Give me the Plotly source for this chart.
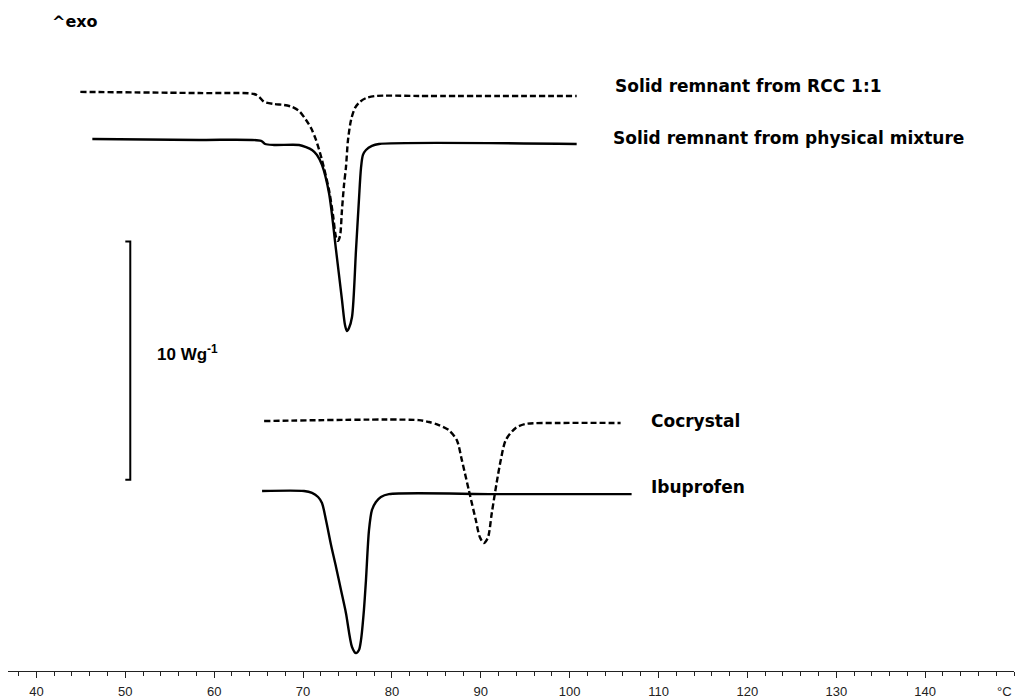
import plotly.graph_objects as go

# ---------------- data (temperature in °C, heat flow in W/g, offset stacked) ----------------
rcc_T = [44.94, 58.31, 64.49, 65.06, 65.62, 66.74, 67.87, 68.76, 69.55, 70.34, 70.90, 71.46,
         72.13, 72.92, 73.37, 73.71, 73.93, 74.16, 74.38, 74.61, 74.83, 75.06, 75.40, 75.85,
         76.40, 77.08, 78.20, 83.03, 100.79]
rcc_W = [24.29, 24.24, 24.20, 24.08, 23.87, 23.78, 23.74, 23.66, 23.49, 23.11, 22.77, 22.27,
         21.43, 20.17, 19.12, 18.19, 18.03, 18.24, 19.33, 20.38, 21.13, 22.27, 23.11, 23.62,
         23.87, 24.03, 24.12, 24.12, 24.12]

pm_T = [46.29, 58.31, 65.28, 65.73, 66.74, 69.55, 70.34, 71.01, 71.57, 72.13, 72.92, 73.71,
        74.38, 74.72, 74.94, 75.17, 75.51, 75.96, 76.29, 76.52, 76.74, 77.08, 77.75, 78.54, 100.79]
pm_W = [22.31, 22.27, 22.23, 22.10, 22.06, 22.06, 21.97, 21.85, 21.64, 21.22, 20.04, 17.65,
        15.55, 14.50, 14.24, 14.37, 14.83, 17.65, 19.75, 21.09, 21.64, 21.85, 22.02, 22.10, 22.10]

cocr_T = [65.62, 83.03, 84.16, 85.28, 86.40, 87.30, 87.87, 88.65, 89.44, 89.89, 90.34, 90.79,
          91.24, 91.80, 92.25, 92.81, 93.93, 95.06, 98.76, 105.73]
cocr_W = [10.46, 10.50, 10.42, 10.29, 10.08, 9.66, 8.82, 7.56, 6.30, 5.59, 5.34, 5.55,
          6.60, 7.90, 8.82, 9.66, 10.17, 10.34, 10.38, 10.38]

ibu_T = [65.39, 70.11, 71.01, 71.69, 72.13, 72.58, 73.15, 73.71, 74.27, 74.83, 75.51, 75.96,
         76.29, 76.52, 76.85, 77.08, 77.42, 77.75, 78.20, 78.76, 79.66, 92.02, 106.97]
ibu_W = [7.52, 7.52, 7.44, 7.27, 7.02, 6.30, 5.25, 4.33, 3.36, 2.39, 0.97, 0.71,
         0.84, 1.26, 2.52, 3.78, 5.88, 6.72, 7.06, 7.27, 7.39, 7.39, 7.39]

# scale bar (10 W/g)
bar_T = [50.0, 50.56, 50.56, 50.0]
bar_W = [18.0, 18.0, 8.0, 8.0]

major_ticks = [40, 50, 60, 70, 80, 90, 100, 110, 120, 130, 140]
minor_ticks = [t for t in range(38, 151, 2) if t % 10 != 0 or t == 150]

labels = [
    ("Solid remnant from RCC 1:1", 104.9, 24.54),
    ("Solid remnant from physical mixture", 104.6, 22.35),
    ("Cocrystal", 108.95, 10.46),
    ("Ibuprofen", 108.95, 7.69),
]

FONT = "Liberation Sans, Arial, sans-serif"
LABEL_FONT = "DejaVu Sans, Verdana, sans-serif"
LW = 2.4

fig = go.Figure()
fig.add_trace(go.Scatter(x=rcc_T, y=rcc_W, mode="lines",
                         line=dict(color="black", width=LW, dash="6px,3px", shape="spline", smoothing=0.8)))
fig.add_trace(go.Scatter(x=pm_T, y=pm_W, mode="lines",
                         line=dict(color="black", width=LW, shape="spline", smoothing=0.8)))
fig.add_trace(go.Scatter(x=cocr_T, y=cocr_W, mode="lines",
                         line=dict(color="black", width=LW, dash="6px,3px", shape="spline", smoothing=0.8)))
fig.add_trace(go.Scatter(x=ibu_T, y=ibu_W, mode="lines",
                         line=dict(color="black", width=LW, shape="spline", smoothing=0.8)))
fig.add_trace(go.Scatter(x=bar_T, y=bar_W, mode="lines",
                         line=dict(color="black", width=2)))

for txt, tx, ty in labels:
    fig.add_annotation(x=tx, y=ty, text="<b>" + txt + "</b>", showarrow=False,
                       xanchor="left", yanchor="middle",
                       font=dict(family=LABEL_FONT, size=17, color="black"))

fig.add_annotation(x=53.3, y=13.32, text="<b>10 Wg<sup>-1</sup></b>", showarrow=False,
                   xanchor="left", yanchor="middle", font=dict(family=FONT, size=17, color="black"))
fig.add_annotation(x=41.5, y=27.23, text="<b>^exo</b>", showarrow=False,
                   xanchor="left", yanchor="middle", font=dict(family=LABEL_FONT, size=16, color="black"))
fig.add_annotation(x=150, xref="x", y=0, yref="paper", yshift=-20, text="°C", showarrow=False,
                   xanchor="right", yanchor="middle", font=dict(family=FONT, size=13, color="#222"))

fig.update_layout(
    width=1019, height=698,
    margin=dict(l=8, r=5, t=0, b=27),
    paper_bgcolor="white", plot_bgcolor="white",
    showlegend=False,
    xaxis=dict(range=[36.8, 150], showgrid=False, zeroline=False,
               showline=True, linecolor="#222", linewidth=1,
               tickmode="array", tickvals=major_ticks, ticks="outside", ticklen=6,
               tickwidth=1, tickcolor="#222", ticklabelstandoff=2,
               tickfont=dict(family=FONT, size=13, color="#222"),
               minor=dict(tickmode="array", tickvals=minor_ticks, ticks="outside",
                          ticklen=4, tickwidth=1, tickcolor="#222", showgrid=False)),
    yaxis=dict(range=[-0.04, 28.15], visible=False, showgrid=False, zeroline=False),
)

fig.write_html("out.html")
